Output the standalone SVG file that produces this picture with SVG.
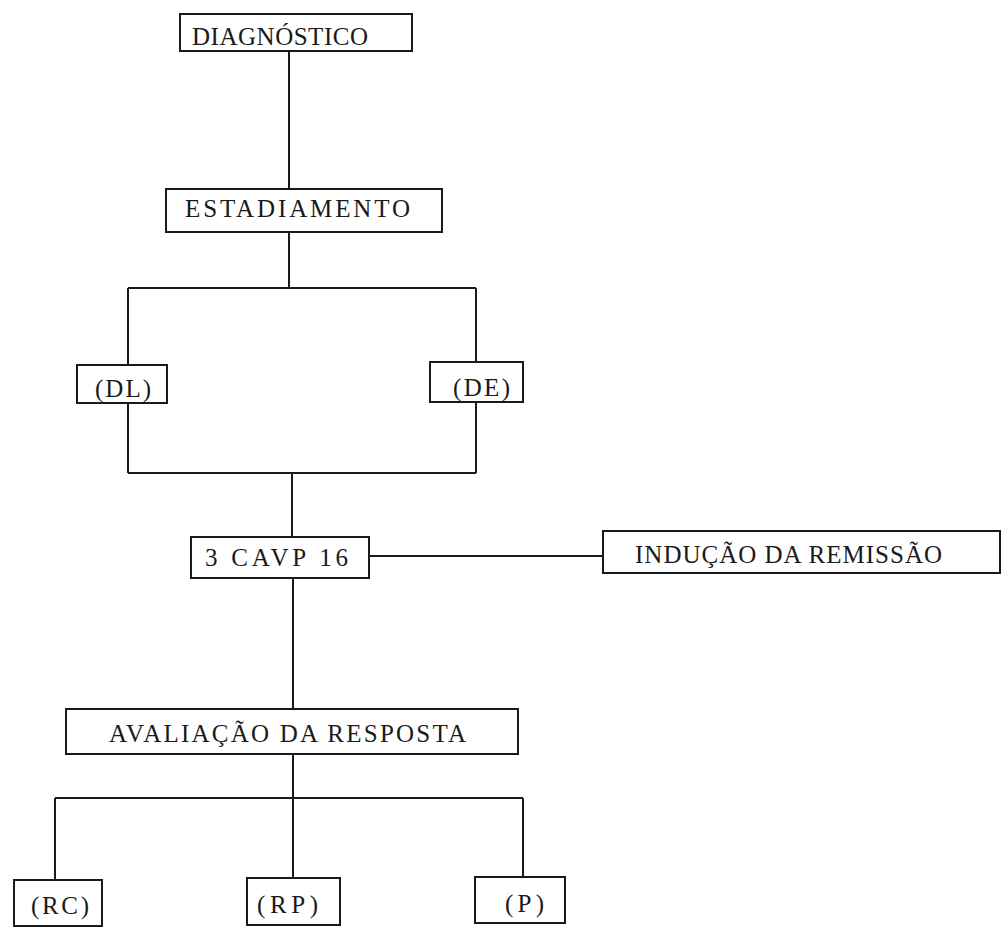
<svg xmlns="http://www.w3.org/2000/svg" width="1002" height="934" viewBox="0 0 1002 934">
<style>
.box{fill:#fff;stroke:#1a1a1a;stroke-width:2}
.lbl{font-family:"Liberation Serif","DejaVu Serif",serif;font-size:25px;fill:#1a1a1a}
.con{fill:none;stroke:#1a1a1a;stroke-width:2}
</style>
<rect width="1002" height="934" fill="#fff"/>
<g id="connectors">
<path class="con" d="M289 51V189"/>
<path class="con" d="M289 232V288"/>
<path class="con" d="M128 288H476"/>
<path class="con" d="M128 288V365"/>
<path class="con" d="M476 288V362"/>
<path class="con" d="M128 403V473"/>
<path class="con" d="M476 402V473"/>
<path class="con" d="M128 473H476"/>
<path class="con" d="M292 473V537"/>
<path class="con" d="M369 556H603"/>
<path class="con" d="M293 578V709"/>
<path class="con" d="M293 754V798"/>
<path class="con" d="M55 798H523"/>
<path class="con" d="M55 798V880"/>
<path class="con" d="M293 798V878"/>
<path class="con" d="M523 798V877"/>
</g>
<g id="diagnostico">
<rect class="box" x="180" y="14" width="232" height="37"/>
<text class="lbl" x="192" y="45" textLength="176" lengthAdjust="spacing">DIAGNÓSTICO</text>
</g>
<g id="estadiamento">
<rect class="box" x="166" y="189" width="276" height="43"/>
<text class="lbl" x="185" y="217" textLength="225" lengthAdjust="spacing">ESTADIAMENTO</text>
</g>
<g id="dl">
<rect class="box" x="77" y="365" width="90" height="38"/>
<text class="lbl" x="95" y="397" textLength="56" lengthAdjust="spacing">(DL)</text>
</g>
<g id="de">
<rect class="box" x="430" y="362" width="93" height="40"/>
<text class="lbl" x="453" y="396" textLength="57" lengthAdjust="spacing">(DE)</text>
</g>
<g id="cavp">
<rect class="box" x="191" y="537" width="178" height="41"/>
<text class="lbl" x="205" y="566" textLength="143" lengthAdjust="spacing">3 CAVP 16</text>
</g>
<g id="inducao">
<rect class="box" x="603" y="531" width="397" height="42"/>
<text class="lbl" x="635" y="563" textLength="307" lengthAdjust="spacing">INDUÇÃO DA REMISSÃO</text>
</g>
<g id="avaliacao">
<rect class="box" x="66" y="709" width="452" height="45"/>
<text class="lbl" x="109" y="742" textLength="357" lengthAdjust="spacing">AVALIAÇÃO DA RESPOSTA</text>
</g>
<g id="rc">
<rect class="box" x="14" y="880" width="88" height="46"/>
<text class="lbl" x="31" y="914" textLength="58" lengthAdjust="spacing">(RC)</text>
</g>
<g id="rp">
<rect class="box" x="247" y="878" width="93" height="47"/>
<text class="lbl" x="257" y="913" textLength="61" lengthAdjust="spacing">(RP)</text>
</g>
<g id="p">
<rect class="box" x="475" y="877" width="90" height="46"/>
<text class="lbl" x="505" y="912" textLength="39" lengthAdjust="spacing">(P)</text>
</g>
</svg>
